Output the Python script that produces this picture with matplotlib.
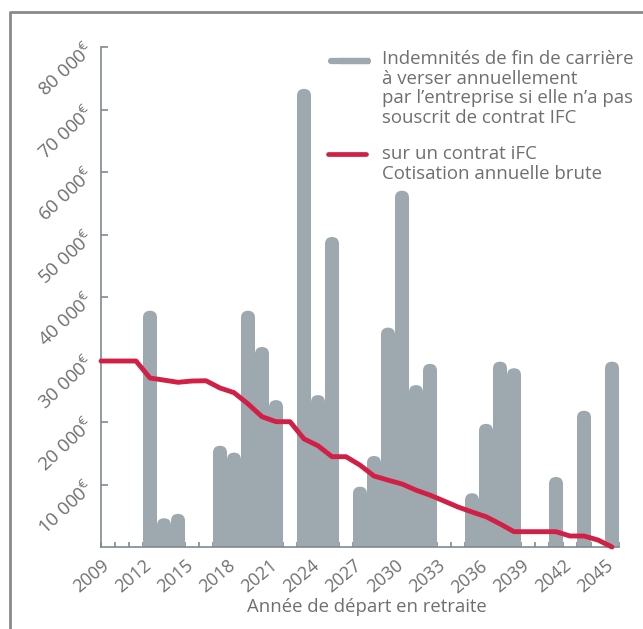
import matplotlib
matplotlib.use("Agg")
import matplotlib.pyplot as plt
from matplotlib.patches import FancyBboxPatch
from matplotlib.lines import Line2D
import numpy as np

plt.rcParams['font.family'] = ['Open Sans', 'DejaVu Sans']
plt.rcParams['mathtext.fontset'] = 'custom'
plt.rcParams['mathtext.rm'] = 'Open Sans'

# ---- data ----
bar_years = [2012, 2013, 2014, 2017, 2018, 2019, 2020, 2021, 2023, 2024, 2025,
             2027, 2028, 2029, 2030, 2031, 2032, 2035, 2036, 2037, 2038, 2041, 2043, 2045]
bar_values = [37800, 4600, 5300, 16200, 15100, 37800, 32000, 23500, 73300, 24300, 49600,
              9650, 14560, 35100, 57000, 25900, 29300, 8600, 19700, 29650, 28600, 11200, 21800, 29650]

line_years = list(range(2009, 2046))
line_values = [29760, 29760, 29760, 27040, 26700, 26350, 26560, 26600, 25440, 24700,
               22900, 20850, 20050, 20050, 17300, 16200, 14450, 14450, 13100, 11360,
               10700, 10080, 9100, 8300, 7360, 6400, 5600, 4850, 3700, 2450,
               2450, 2450, 2450, 1760, 1760, 1120, 0]

y_ticks = [10000, 20000, 30000, 40000, 50000, 60000, 70000, 80000]
y_labels = ["10 000", "20 000", "30 000", "40 000", "50 000", "60 000", "70 000", "80 000"]
x_major = list(range(2009, 2046, 3))

legend_bar = "Indemnités de fin de carrière\nà verser annuellement\npar l\u2019entreprise si elle n\u2019a pas\nsouscrit de contrat IFC"
legend_line = "sur un contrat iFC\nCotisation annuelle brute"
xlabel = "Année de départ en retraite"

GRAY = "#9ea9af"
RED = "#d21f45"
TXT = "#6d6f71"
AX = "#7f8a90"

W, H = 643, 629
fig = plt.figure(figsize=(W / 100, H / 100), dpi=100)
ax = fig.add_axes([101 / W, (H - 547) / H, (619 - 101) / W, 500 / H])
ax.set_xlim(2009, 2046)
ax.set_ylim(0, 80000)

# rounded-top bars
r_data = 7 / 500 * 80000
half = 0.5
for x, v in zip(bar_years, bar_values):
    p = FancyBboxPatch((x, -r_data), 1.0, v + r_data,
                       boxstyle=f"round,pad=0,rounding_size={half}",
                       mutation_aspect=r_data / half,
                       facecolor=GRAY, edgecolor='none', zorder=2)
    ax.add_patch(p)

lx = [2009] + [y + 0.5 for y in line_years]
lv = [line_values[0]] + line_values
ax.plot(lx, lv, color=RED, lw=3.5, solid_joinstyle='round', solid_capstyle='round',
        zorder=3, clip_on=False)

for s in ['top', 'right']:
    ax.spines[s].set_visible(False)
for s in ['left', 'bottom']:
    ax.spines[s].set_color(AX)
    ax.spines[s].set_linewidth(1.2)

ax.set_yticks(y_ticks)
ax.set_yticklabels([l + r"$^{\mathrm{€}}$" for l in y_labels])
ax.set_xticks(x_major)
ax.set_xticks(range(2009, 2047), minor=True)
ax.set_xticklabels([str(x) for x in x_major])
ax.tick_params(axis='y', direction='in', length=5, width=1.2, color=AX, colors=TXT,
               labelsize=13.5, pad=7)
ax.tick_params(axis='x', which='both', direction='in', length=3.5, width=1.2, color=AX,
               colors=TXT, labelsize=12.8, pad=7)
for t in ax.get_yticklabels():
    t.set_rotation(43)
    t.set_rotation_mode('anchor')
    t.set_ha('right')
    t.set_va('center')
for t in ax.get_xticklabels():
    t.set_rotation(40)
    t.set_rotation_mode('anchor')
    t.set_ha('right')
    t.set_va('top')
ax.set_xlabel(xlabel, color=TXT, fontsize=13.3)
ax.xaxis.set_label_coords((367 - 101) / (619 - 101), -(598 - 547) / 500)
ax.xaxis.label.set_va('top')

# legend (drawn manually)
fig.add_artist(Line2D([331 / W, 368 / W], [1 - 61 / H, 1 - 61 / H], color=GRAY, lw=4.5,
                      solid_capstyle='round'))
fig.add_artist(Line2D([340 / W, 370 / W], [1 - 61 / H, 1 - 61 / H], color=GRAY, lw=4.5,
                      solid_capstyle='butt'))
fig.text(382 / W, 1 - 50 / H, legend_bar, color=TXT, fontsize=13.4, va='top', ha='left',
         linespacing=1.12)
fig.add_artist(Line2D([328 / W, 366 / W], [1 - 154 / H, 1 - 154 / H], color=RED, lw=3.4,
                      solid_capstyle='round'))
fig.text(382 / W, 1 - 145 / H, legend_line, color=TXT, fontsize=13.4, va='top', ha='left',
         linespacing=1.12)

# figure frame
fig.add_artist(Line2D([10 / W, 10 / W, 1.0], [0, 1 - 12 / H, 1 - 12 / H], color="#8a8a8a", lw=2))

fig.savefig("out.png", dpi=100)
